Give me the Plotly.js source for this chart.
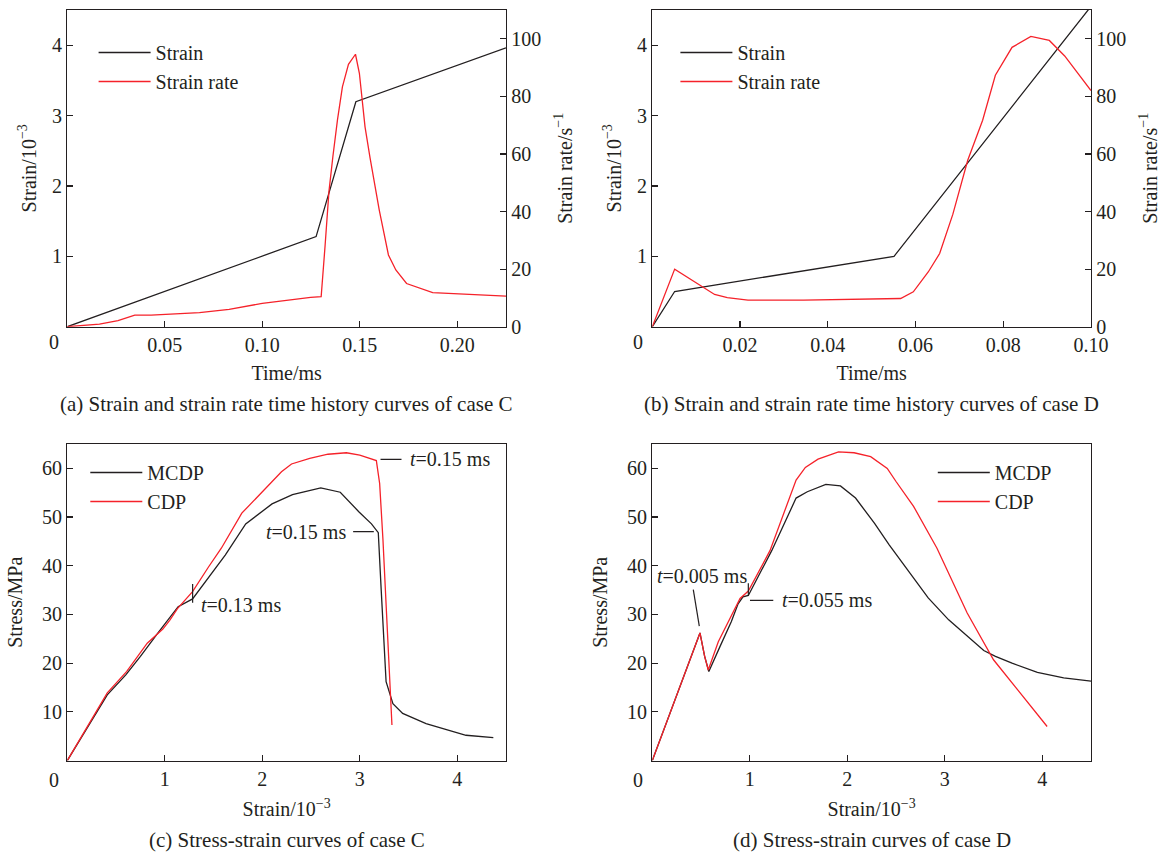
<!DOCTYPE html>
<html><head><meta charset="utf-8">
<script src="https://cdn.plot.ly/plotly-3.0.1.min.js"></script>
<style>html,body{margin:0;padding:0;background:#fff}#chart{width:1162px;height:855px}</style>
</head><body><div id="chart"></div>
<script>
// ---- (a) case C: strain and strain-rate time history ----
const caseC_strainTime = [0, 0.1276, 0.148, 0.225];
const caseC_strain     = [0, 1.28, 3.196, 3.96];
const caseC_rateTime = [0, 0.0165, 0.026, 0.0346, 0.043, 0.0678, 0.083, 0.1, 0.1248, 0.1302, 0.1322, 0.1342, 0.1362, 0.1386, 0.1411, 0.1442, 0.1478, 0.1498, 0.1527, 0.1553, 0.160, 0.1647, 0.1685, 0.174, 0.1874, 0.225];
const caseC_rate     = [0, 0.9, 2.1, 4.0, 4.0, 4.9, 6.0, 8.1, 10.2, 10.4, 28, 47, 59, 72, 83.3, 91.1, 94.6, 88, 69.4, 58.5, 40.5, 24.9, 19.7, 15, 11.8, 10.6];

// ---- (b) case D: strain and strain-rate time history ----
const caseD_strainTime = [0, 0.0051, 0.0551, 0.1];
const caseD_strain     = [0, 0.5, 1.0, 4.55];
const caseD_rateTime = [0, 0.0051, 0.0142, 0.0171, 0.0218, 0.0345, 0.0566, 0.0595, 0.0629, 0.0655, 0.0685, 0.0719, 0.0753, 0.0782, 0.082, 0.0863, 0.0905, 0.094, 0.1];
const caseD_rate     = [0, 20, 11.2, 10.1, 9.25, 9.25, 9.8, 12.1, 19, 25.4, 39, 57.8, 71.7, 87.3, 97, 100.8, 99.4, 94, 82];

// ---- (c) case C: stress-strain ----
const caseC_mcdpStrain = [0, 0.12, 0.27, 0.41, 0.60, 0.75, 0.94, 1.137, 1.285, 1.47, 1.62, 1.83, 2.10, 2.31, 2.60, 2.80, 2.99, 3.12, 3.19, 3.22, 3.255, 3.27, 3.34, 3.44, 3.68, 3.89, 4.09, 4.37];
const caseC_mcdpStress = [0, 4.0, 9.0, 13.5, 17.6, 21.4, 26.5, 31.6, 33.2, 38.3, 42.2, 48.6, 52.7, 54.6, 56.0, 55.1, 51.1, 48.6, 46.8, 35.0, 21.3, 16.2, 11.7, 9.7, 7.6, 6.3, 5.2, 4.7];
const caseC_cdpStrain = [0, 0.22, 0.41, 0.61, 0.82, 0.98, 1.05, 1.13, 1.285, 1.45, 1.58, 1.79, 1.87, 2.03, 2.197, 2.30, 2.487, 2.674, 2.863, 3.0, 3.17, 3.204, 3.238, 3.33];
const caseC_cdpStress = [0, 7.4, 13.9, 18.3, 24.1, 27.0, 28.8, 31.2, 34.7, 39.8, 43.6, 50.8, 52.5, 55.9, 59.3, 60.9, 62.05, 62.9, 63.2, 62.7, 61.6, 56.9, 45.3, 7.3];

// ---- (d) case D: stress-strain ----
const caseD_mcdpStrain = [0, 0.489, 0.537, 0.58, 0.694, 0.81, 0.88, 0.93, 0.985, 1.225, 1.475, 1.59, 1.78, 1.93, 2.085, 2.28, 2.43, 2.62, 2.83, 3.04, 3.23, 3.40, 3.52, 3.69, 3.95, 4.22, 4.5];
const caseD_mcdpStress = [0, 26.2, 21.4, 18.3, 23.4, 28.5, 32.2, 33.6, 33.9, 43.1, 53.9, 55.2, 56.7, 56.4, 53.9, 48.7, 44.3, 39.2, 33.4, 28.9, 25.5, 22.6, 21.4, 20.0, 18.1, 17.0, 16.3];
const caseD_cdpStrain = [0, 0.489, 0.537, 0.574, 0.677, 0.78, 0.90, 0.985, 1.207, 1.475, 1.57, 1.70, 1.91, 2.07, 2.24, 2.41, 2.50, 2.68, 2.92, 3.23, 3.50, 4.05];
const caseD_cdpStress = [0, 26.2, 21.4, 18.6, 24.4, 28.5, 33.3, 34.8, 43.1, 57.6, 60.2, 61.9, 63.4, 63.2, 62.4, 60.0, 57.3, 52.2, 43.6, 30.3, 20.7, 7.0];

// ---- tick labels ----
const timeTicksC = [0.05, 0.10, 0.15, 0.20];
const timeTicksD = [0.02, 0.04, 0.06, 0.08, 0.10];
const strainTicks = [1, 2, 3, 4];
const rateTicks = [0, 20, 40, 60, 80, 100];
const stressTicks = [10, 20, 30, 40, 50, 60];

const INK = '#231f20', RED = '#f5222a', FONT = '"Liberation Serif","Times New Roman",serif';
const W = 1162, H = 855;
const px = v => v / W, py = v => 1 - v / H;

const line = (c) => ({color: c, width: 1.3});
const traces = [
  {x: caseC_strainTime, y: caseC_strain, name: 'Strain', mode: 'lines', line: line(INK), xaxis: 'x', yaxis: 'y', legend: 'legend'},
  {x: caseC_rateTime, y: caseC_rate, name: 'Strain rate', mode: 'lines', line: line(RED), xaxis: 'x', yaxis: 'y2', legend: 'legend'},
  {x: caseD_strainTime, y: caseD_strain, name: 'Strain', mode: 'lines', line: line(INK), xaxis: 'x2', yaxis: 'y3', legend: 'legend2'},
  {x: caseD_rateTime, y: caseD_rate, name: 'Strain rate', mode: 'lines', line: line(RED), xaxis: 'x2', yaxis: 'y4', legend: 'legend2'},
  {x: caseC_mcdpStrain, y: caseC_mcdpStress, name: 'MCDP', mode: 'lines', line: line(INK), xaxis: 'x3', yaxis: 'y5', legend: 'legend3'},
  {x: caseC_cdpStrain, y: caseC_cdpStress, name: 'CDP', mode: 'lines', line: line(RED), xaxis: 'x3', yaxis: 'y5', legend: 'legend3'},
  {x: caseD_mcdpStrain, y: caseD_mcdpStress, name: 'MCDP', mode: 'lines', line: line(INK), xaxis: 'x4', yaxis: 'y6', legend: 'legend4'},
  {x: caseD_cdpStrain, y: caseD_cdpStress, name: 'CDP', mode: 'lines', line: line(RED), xaxis: 'x4', yaxis: 'y6', legend: 'legend4'}
];

const tf = {family: FONT, size: 20, color: INK};
const cf = {family: FONT, size: 21, color: INK};
function ax(extra) {
  return Object.assign({showgrid: false, zeroline: false, showline: true, linecolor: INK, linewidth: 1.3,
    ticks: 'inside', ticklen: 6, tickwidth: 1.2, tickcolor: INK, tickfont: tf, mirror: true, fixedrange: true}, extra);
}
const dLeft = [px(67.3), px(506)], dRight = [px(652.3), px(1091)];
const dTop = [py(326.7), py(9.9)], dBot = [py(760.6), py(444)];

function paperText(x, y, text, font) {
  return {xref: 'paper', yref: 'paper', x: px(x), y: py(y), xanchor: 'center', yanchor: 'middle', text: text, showarrow: false, font: font};
}
const ITEMW = 52;
function legendAt(textX, y) {
  return {x: px(textX - ITEMW - 10), y: py(y), xanchor: 'left', yanchor: 'top', font: tf, itemwidth: ITEMW, bgcolor: 'rgba(0,0,0,0)', borderwidth: 0};
}

const layout = {
  width: W, height: H, margin: {l: 0, r: 0, t: 0, b: 0}, paper_bgcolor: '#fff', plot_bgcolor: '#fff',
  font: tf, showlegend: true, hovermode: false,
  xaxis: ax({domain: dLeft, anchor: 'y', range: [0, 0.225], tickvals: timeTicksC, tickformat: '.2f', title: {text: 'Time/ms', font: tf, standoff: 11}}),
  yaxis: ax({domain: dTop, anchor: 'x', range: [0, 4.5], tickvals: strainTicks, title: {text: 'Strain/10<sup>−3</sup>', font: tf, standoff: 10}}),
  yaxis2: ax({overlaying: 'y', anchor: 'x', side: 'right', range: [0, 110], tickvals: rateTicks, mirror: false, title: {text: 'Strain rate/s<sup>−1</sup>', font: tf, standoff: 17}}),
  xaxis2: ax({domain: dRight, anchor: 'y3', range: [0, 0.1], tickvals: timeTicksD, tickformat: '.2f', title: {text: 'Time/ms', font: tf, standoff: 11}}),
  yaxis3: ax({domain: dTop, anchor: 'x2', range: [0, 4.5], tickvals: strainTicks, title: {text: 'Strain/10<sup>−3</sup>', font: tf, standoff: 10}}),
  yaxis4: ax({overlaying: 'y3', anchor: 'x2', side: 'right', range: [0, 110], tickvals: rateTicks, mirror: false, title: {text: 'Strain rate/s<sup>−1</sup>', font: tf, standoff: 17}}),
  xaxis3: ax({domain: dLeft, anchor: 'y5', range: [0, 4.5], tickvals: strainTicks, title: {text: 'Strain/10<sup>−3</sup>', font: tf, standoff: 13}}),
  yaxis5: ax({domain: dBot, anchor: 'x3', range: [0, 65], tickvals: stressTicks, title: {text: 'Stress/MPa', font: tf, standoff: 14}}),
  xaxis4: ax({domain: dRight, anchor: 'y6', range: [0, 4.5], tickvals: strainTicks, title: {text: 'Strain/10<sup>−3</sup>', font: tf, standoff: 13}}),
  yaxis6: ax({domain: dBot, anchor: 'x4', range: [0, 65], tickvals: stressTicks, title: {text: 'Stress/MPa', font: tf, standoff: 14}}),
  legend:  legendAt(155.6, 33),
  legend2: legendAt(737.4, 33),
  legend3: legendAt(147.3, 453),
  legend4: legendAt(994.8, 453),
  shapes: [
    {type: 'line', xref: 'x3', yref: 'y5', x0: 3.213, x1: 3.428, y0: 61.85, y1: 61.85, line: {color: INK, width: 1.2}},
    {type: 'line', xref: 'x3', yref: 'y5', x0: 2.932, x1: 3.144, y0: 47.0, y1: 47.0, line: {color: INK, width: 1.2}},
    {type: 'line', xref: 'x3', yref: 'y5', x0: 1.2855, x1: 1.2855, y0: 32.4, y1: 36.24, line: {color: INK, width: 1.2}},
    {type: 'line', xref: 'x4', yref: 'y6', x0: 0.4205, x1: 0.482, y0: 35.1, y1: 27.6, line: {color: INK, width: 1.2}},
    {type: 'line', xref: 'x4', yref: 'y6', x0: 1.002, x1: 1.241, y0: 32.9, y1: 32.9, line: {color: INK, width: 1.2}},
    {type: 'line', xref: 'x4', yref: 'y6', x0: 0.985, x1: 0.985, y0: 33.9, y1: 36.4, line: {color: INK, width: 1.2}}
  ],
  annotations: [
    {xref: 'x3', yref: 'y5', x: 3.493, y: 61.85, xanchor: 'left', yanchor: 'middle', text: '<i>t</i>=0.15 ms', showarrow: false, font: tf},
    {xref: 'x3', yref: 'y5', x: 2.877, y: 47.0, xanchor: 'right', yanchor: 'middle', text: '<i>t</i>=0.15 ms', showarrow: false, font: tf},
    {xref: 'x3', yref: 'y5', x: 1.353, y: 31.9, xanchor: 'left', yanchor: 'middle', text: '<i>t</i>=0.13 ms', showarrow: false, font: tf},
    {xref: 'x4', yref: 'y6', x: 0.028, y: 38.0, xanchor: 'left', yanchor: 'middle', text: '<i>t</i>=0.005 ms', showarrow: false, font: tf},
    {xref: 'x4', yref: 'y6', x: 1.31, y: 32.9, xanchor: 'left', yanchor: 'middle', text: '<i>t</i>=0.055 ms', showarrow: false, font: tf},
    // shared origin labels
    paperText(54, 342, '0', tf),
    paperText(638, 342, '0', tf),
    paperText(54, 780, '0', tf),
    paperText(638, 780, '0', tf),
    // captions
    paperText(286.7, 404, '(a) Strain and strain rate time history curves of case C', cf),
    paperText(871.7, 404, '(b) Strain and strain rate time history curves of case D', cf),
    paperText(286.7, 840, '(c) Stress-strain curves of case C', cf),
    paperText(871.7, 840, '(d) Stress-strain curves of case D', cf)
  ]
};

Plotly.newPlot('chart', traces, layout, {displayModeBar: false, staticPlot: true});
</script></body></html>
